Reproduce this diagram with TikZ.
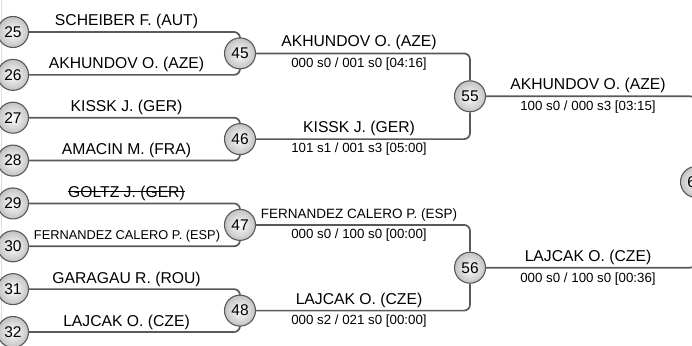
\documentclass[tikz,border=0pt]{standalone}
\usepackage{fontspec}
\setmainfont{Liberation Sans}
\usetikzlibrary{calc}
\definecolor{linegray}{HTML}{595959}
\definecolor{seedgray}{HTML}{C2C2C2}
\tikzset{
  seed/.style={circle, draw=linegray, line width=1.1pt, minimum size=31pt, inner sep=0pt,
    inner color=white, outer color=seedgray, font=\fontsize{15.5}{16}\selectfont},
  link/.style={draw=linegray, line width=1.7pt, rounded corners=6pt},
  player/.style={anchor=base, inner sep=0pt, font=\fontsize{15.7}{16}\selectfont},
  smallplayer/.style={player, font=\fontsize{12.8}{13}\selectfont},
  score/.style={anchor=north, inner sep=0pt, font=\fontsize{13.3}{14}\selectfont},
}

\begin{document}
\begin{tikzpicture}[x=1pt, y=-1pt]
  \clip (0,0) rectangle (692,345);
  \draw[gray!25] (0.7,0) -- (0.7,345);

  % first round
  \foreach \n [count=\i from 0] in {25,...,32}
    \node[seed] (m\n) at (13, 32+42.857*\i) {\n};
  % second round
  \node[seed] (m45) at (240, 53.4) {45};
  \node[seed] (m46) at (240, 139.1) {46};
  \node[seed] (m47) at (240, 224.9) {47};
  \node[seed] (m48) at (240, 310.6) {48};
  % third round
  \node[seed] (m55) at (470, 96.3) {55};
  \node[seed] (m56) at (470, 267.7) {56};
  % final
  \node[seed] (m60) at (696, 182) {60};

  \foreach \a/\b/\c in {25/26/45, 27/28/46, 29/30/47, 31/32/48, 45/46/55, 47/48/56, 55/56/60} {
    \draw[link] (m\a.east) -| (m\c.north);
    \draw[link] (m\b.east) -| (m\c.south);
  }

  % names, first round
  \node[player] (n25) at ($(m25)+(113.5,-6)$) {SCHEIBER F. (AUT)};
  \node[player] (n26) at ($(m26)+(113.5,-6)$) {AKHUNDOV O. (AZE)};
  \node[player] (n27) at ($(m27)+(113.5,-6)$) {KISSK J. (GER)};
  \node[player] (n28) at ($(m28)+(113.5,-6)$) {AMACIN M. (FRA)};
  \node[player] (n29) at ($(m29)+(113.5,-6)$) {GOLTZ J. (GER)};
  \draw[line width=0.8pt] ([yshift=5.6pt]n29.base west) -- ([yshift=5.6pt]n29.base east);
  \node[smallplayer] (n30) at ($(m30)+(114,-7)$) {FERNANDEZ CALERO P. (ESP)};
  \node[player] (n31) at ($(m31)+(113.5,-6)$) {GARAGAU R. (ROU)};
  \node[player] (n32) at ($(m32)+(113.5,-6)$) {LAJCAK O. (CZE)};

  % winners and scores
  \node[player] (n45) at ($(m45)+(119,-6.5)$) {AKHUNDOV O. (AZE)};
  \node[score] (s45) at ($(m45)+(119,4)$) {000 s0 / 001 s0 [04:16]};
  \node[player] (n46) at ($(m46)+(119,-6.5)$) {KISSK J. (GER)};
  \node[score] (s46) at ($(m46)+(119,4)$) {101 s1 / 001 s3 [05:00]};
  \node[player, font=\fontsize{13.5}{14}\selectfont] (n47) at ($(m47)+(119,-6.5)$) {FERNANDEZ CALERO P. (ESP)};
  \node[score] (s47) at ($(m47)+(119,4)$) {000 s0 / 100 s0 [00:00]};
  \node[player] (n48) at ($(m48)+(119,-6.5)$) {LAJCAK O. (CZE)};
  \node[score] (s48) at ($(m48)+(119,4)$) {000 s2 / 021 s0 [00:00]};
  \node[player] (n55) at ($(m55)+(118,-6.5)$) {AKHUNDOV O. (AZE)};
  \node[score] (s55) at ($(m55)+(118,4.5)$) {100 s0 / 000 s3 [03:15]};
  \node[player] (n56) at ($(m56)+(118,-6.5)$) {LAJCAK O. (CZE)};
  \node[score] (s56) at ($(m56)+(118,4.5)$) {000 s0 / 100 s0 [00:36]};
\end{tikzpicture}
\end{document}
